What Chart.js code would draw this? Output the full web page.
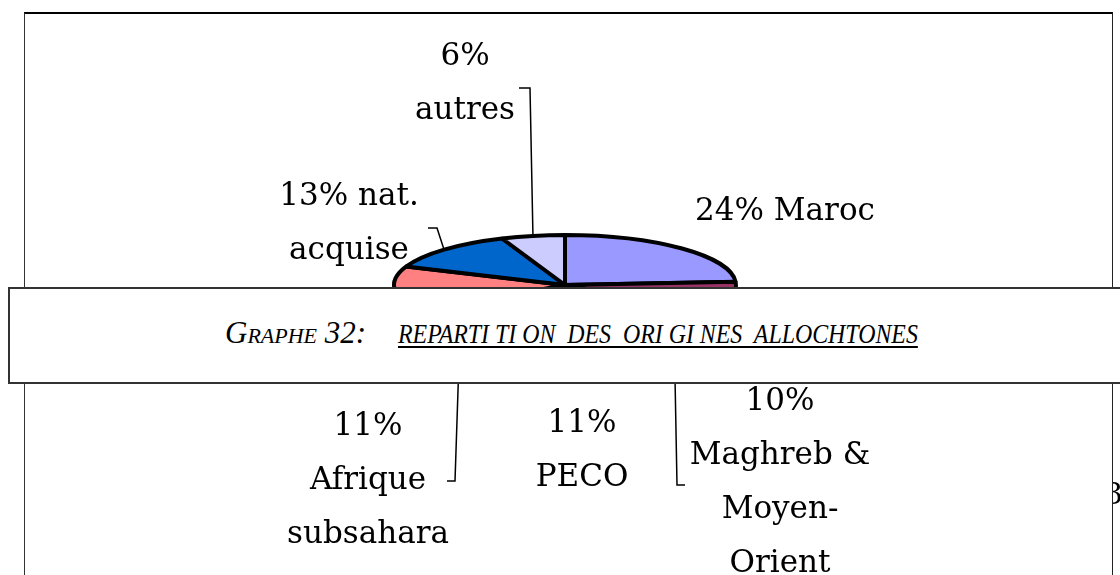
<!DOCTYPE html>
<html>
<head>
<meta charset="utf-8">
<script src="https://cdn.jsdelivr.net/npm/chart.js@4.4.1/dist/chart.umd.min.js"></script>
<style>
  html, body { margin: 0; padding: 0; background: #fff; }
  body { width: 1120px; height: 575px; position: relative; overflow: hidden; }
  #cadre {
    position: absolute; left: 24px; top: 12px; width: 1089px; height: 640px;
    border-top: 2px solid #000; border-left: 1px solid #333; border-right: 1px solid #222;
    box-sizing: border-box;
  }
  #camembert { position: absolute; left: 0; top: 0; }
  #legende {
    position: absolute; left: 8px; top: 287px; width: 1130px; height: 97px;
    border: 2px solid #333; background: #fff; box-sizing: border-box;
  }
  .titre {
    position: absolute; white-space: pre; font-family: "Liberation Serif", serif;
    font-style: italic; color: #000; transform-origin: 0 0;
  }
  #t1 { left: 225px; top: 317px; font-size: 31px; line-height: 31px; font-variant: small-caps; }
  #t2 {
    left: 398px; top: 320px; font-size: 28px; line-height: 28px;
    text-decoration: underline; text-decoration-thickness: 2px; text-underline-offset: 3px;
  }
  #bord { position: absolute; left: 1113px; top: 476px; width: 8px; height: 40px; overflow: hidden; }
  #bord span { position: absolute; left: -9px; top: 0; font: 30px "DejaVu Serif", serif; }
</style>
</head>
<body>
<div id="cadre"></div>
<canvas id="camembert" width="1120" height="575"></canvas>
<div id="legende"></div>
<div class="titre" id="t1">Graphe 32:</div>
<div class="titre" id="t2">REPARTI TI ON  DES  ORI GI NES  ALLOCHTONES</div>
<div id="bord"><span>3</span></div>
<script>
// répartition des origines (en %), dans le sens horaire depuis midi
const origines = ['Maroc', 'Turquie', 'Maghreb &|Moyen-|Orient', 'PECO', 'Afrique|subsahara', 'UE', 'nat.|acquise', 'autres'];
const parts = [24, 10, 10, 11, 11, 15, 13, 6];
const couleurs = ['#9999FF', '#993366', '#FFFFCC', '#CCFFFF', '#660066', '#FF8080', '#0066CC', '#CCCCFF'];
// pourcentage sur sa propre ligne ?
const pctSeul = [false, false, true, true, true, false, false, true];

// mise en page
const CX = 565, CY = 285, RX = 171, RY = 50;
const INTERLIGNE = 54;
// x centre, ligne de base de la 1re ligne, coude du trait de rappel [x1, y1, x2]
const etiquettes = [
  { x: 785, y: 220 },
  { x: 880, y: 345 },
  { x: 780, y: 410, trait: [677, 485, 685] },
  { x: 582, y: 432 },
  { x: 368, y: 435, trait: [455, 481, 447] },
  { x: 270, y: 345 },
  { x: 349, y: 205, trait: [437, 228, 428] },
  { x: 465, y: 65, trait: [530, 88, 519] }
];

function lignesEtiquette(i) {
  const mots = origines[i].split('|');
  if (pctSeul[i]) return [parts[i] + '%', ...mots];
  return [parts[i] + '% ' + mots[0], ...mots.slice(1)];
}

// camembert aplati en ellipse, contours tracés sans déformation
const aplatir = {
  id: 'aplatir',
  beforeDatasetsDraw(chart) {
    const ctx = chart.ctx;
    const arc = chart.getDatasetMeta(0).data[0];
    ctx.save();
    ctx.translate(arc.x, arc.y);
    ctx.scale(1, RY / RX);
    ctx.translate(-arc.x, -arc.y);
    const stroke = CanvasRenderingContext2D.prototype.stroke;
    ctx.stroke = function () {
      this.save();
      const r = chart.currentDevicePixelRatio;
      this.setTransform(r, 0, 0, r, 0, 0);
      stroke.call(this);
      this.restore();
    };
  },
  afterDatasetsDraw(chart) {
    delete chart.ctx.stroke;
    chart.ctx.restore();
  }
};

const etiquetage = {
  id: 'etiquetage',
  afterDraw(chart) {
    const ctx = chart.ctx;
    const k = RY / RX;
    ctx.save();
    chart.getDatasetMeta(0).data.forEach((arc, i) => {
      const pos = etiquettes[i];
      if (pos.trait) {
        const a = (arc.startAngle + arc.endAngle) / 2;
        const ex = arc.x + arc.outerRadius * Math.cos(a);
        const ey = arc.y + arc.outerRadius * k * Math.sin(a);
        ctx.beginPath();
        ctx.moveTo(ex, ey);
        ctx.lineTo(pos.trait[0], pos.trait[1]);
        ctx.lineTo(pos.trait[2], pos.trait[1]);
        ctx.strokeStyle = '#000';
        ctx.lineWidth = 1.5;
        ctx.stroke();
      }
      ctx.fillStyle = '#000';
      ctx.font = '31px "DejaVu Serif", serif';
      ctx.textAlign = 'center';
      ctx.textBaseline = 'alphabetic';
      lignesEtiquette(i).forEach((t, j) => ctx.fillText(t, pos.x, pos.y + j * INTERLIGNE));
    });
    ctx.restore();
  }
};

new Chart(document.getElementById('camembert'), {
  type: 'pie',
  data: {
    labels: origines.map(o => o.replace(/\|/g, ' ')),
    datasets: [{
      data: parts,
      backgroundColor: couleurs,
      borderColor: '#000',
      borderWidth: 4,
      radius: RX
    }]
  },
  options: {
    responsive: false,
    animation: false,
    events: [],
    layout: {
      padding: { left: CX - 200, right: 1120 - CX - 200, top: CY - 200, bottom: 575 - CY - 200 }
    },
    plugins: { legend: { display: false }, tooltip: { enabled: false } }
  },
  plugins: [aplatir, etiquetage]
});

// largeur du titre ajustée à la ligne de légende
[['t1', 141], ['t2', 520]].forEach(([id, w]) => {
  const el = document.getElementById(id);
  el.style.transform = 'scaleX(' + (w / el.offsetWidth) + ')';
});
</script>
</body>
</html>
